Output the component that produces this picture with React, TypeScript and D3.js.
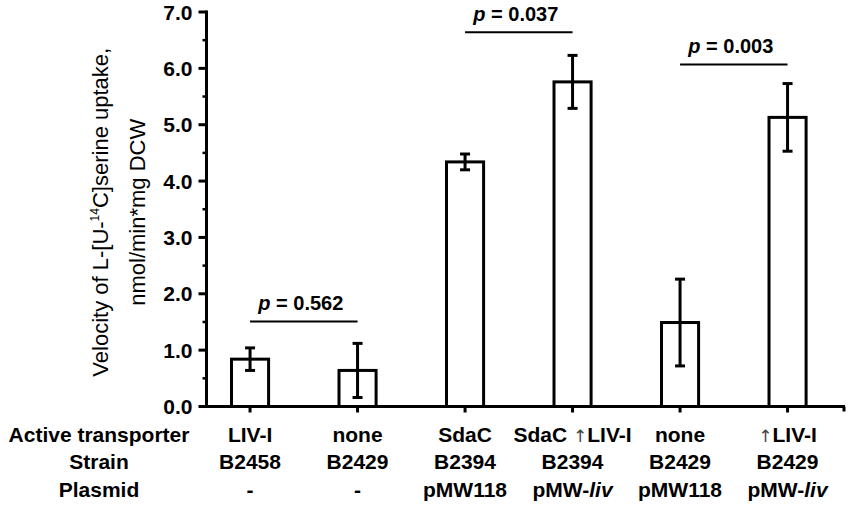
import * as d3 from "d3";

const transporters = ["LIV-I", "none", "SdaC", "SdaC ↑LIV-I", "none", "↑LIV-I"];
const strains = ["B2458", "B2429", "B2394", "B2394", "B2429", "B2429"];
const plasmids = ["-", "-", "pMW118", "pMW-liv", "pMW118", "pMW-liv"];
const rowTitles = ["Active transporter", "Strain", "Plasmid"];

// mean uptake and error (±) per strain
const means = [0.84, 0.64, 4.34, 5.76, 1.49, 5.13];
const errors = [0.2, 0.48, 0.14, 0.47, 0.77, 0.6];

// significance brackets
const pairs = [
  [0, 1],
  [2, 3],
  [4, 5],
];
const pValues = ["0.562", "0.037", "0.003"];
const pHeights = [1.51, 6.64, 6.07];

const W = 851;
const H = 514;
const font = "'Liberation Sans', Arial, sans-serif";

function Label({ text, x, y }: { text: string; x: number; y: number }) {
  // arrow drawn thin, "liv" in italics, as in the figure
  const parts = text.split(/(↑|liv$)/).filter((s) => s !== "");
  return (
    <text x={x} y={y} textAnchor="middle" fontSize={21} fontWeight="bold">
      {parts.map((p, i) =>
        p === "↑" ? (
          <tspan key={i} fontFamily="'DejaVu Sans'" fontWeight="normal" fontSize={17} fill="#444">
            {"\u2191\uFE0E"}
          </tspan>
        ) : p === "liv" ? (
          <tspan key={i} fontStyle="italic">
            liv
          </tspan>
        ) : (
          <tspan key={i}>{p}</tspan>
        )
      )}
    </text>
  );
}

export default function App() {
  const y = d3.scaleLinear().domain([0, 7]).range([406.5, 12]);
  const x = d3
    .scaleBand<number>()
    .domain(d3.range(means.length))
    .range([196.3, 841.3]);
  const cx = (i: number) => (x(i) ?? 0) + x.bandwidth() / 2;
  const barW = x.bandwidth() * 0.345;
  const capW = 10;
  const axisX = 206.5;
  const axisEnd = 845;

  const major = y.ticks(7);
  const minor = y.ticks(14).filter((t) => !Number.isInteger(t));

  const rows = [transporters, strains, plasmids];
  const rowY = [442, 469, 497];

  return (
    <svg
      width={W}
      height={H}
      style={{ position: "absolute", left: 0, top: 0, background: "#fff" }}
      fontFamily={font}
    >
      {/* bars */}
      {means.map((m, i) => (
        <rect
          key={"b" + i}
          x={cx(i) - barW / 2}
          y={y(m)}
          width={barW}
          height={y(0) - y(m)}
          fill="#fff"
          stroke="#000"
          strokeWidth={3}
        />
      ))}

      {/* error bars */}
      {means.map((m, i) => {
        const hi = y(m + errors[i]);
        const lo = y(m - errors[i]);
        return (
          <g key={"e" + i} stroke="#000" strokeWidth={3}>
            <line x1={cx(i)} x2={cx(i)} y1={hi} y2={lo} />
            <line x1={cx(i) - capW / 2} x2={cx(i) + capW / 2} y1={hi} y2={hi} />
            <line x1={cx(i) - capW / 2} x2={cx(i) + capW / 2} y1={lo} y2={lo} />
          </g>
        );
      })}

      {/* significance lines */}
      {pairs.map(([a, b], i) => (
        <g key={"p" + i}>
          <line
            x1={cx(a)}
            x2={cx(b)}
            y1={y(pHeights[i])}
            y2={y(pHeights[i])}
            stroke="#000"
            strokeWidth={2}
          />
          <text
            x={(cx(a) + cx(b)) / 2 - 3}
            y={y(pHeights[i]) - 11}
            textAnchor="middle"
            fontSize={20}
            fontWeight="bold"
          >
            <tspan fontStyle="italic">p</tspan> = {pValues[i]}
          </text>
        </g>
      ))}

      {/* y axis */}
      <line x1={axisX} x2={axisX} y1={y(7) - 1.5} y2={y(0) + 1.5} stroke="#000" strokeWidth={3} />
      {major.map((t) => (
        <g key={"t" + t}>
          <line x1={axisX - 8} x2={axisX} y1={y(t)} y2={y(t)} stroke="#000" strokeWidth={3} />
          <text
            x={axisX - 14}
            y={y(t)}
            dy="0.36em"
            textAnchor="end"
            fontSize={21}
            fontWeight="bold"
          >
            {t.toFixed(1)}
          </text>
        </g>
      ))}
      {minor.map((t) => (
        <line
          key={"m" + t}
          x1={axisX - 4}
          x2={axisX}
          y1={y(t)}
          y2={y(t)}
          stroke="#000"
          strokeWidth={2.5}
        />
      ))}

      {/* x axis */}
      <line x1={axisX} x2={axisEnd} y1={y(0)} y2={y(0)} stroke="#000" strokeWidth={3} />
      {means.map((_, i) => (
        <line
          key={"xt" + i}
          x1={cx(i)}
          x2={cx(i)}
          y1={y(0)}
          y2={y(0) + 6}
          stroke="#000"
          strokeWidth={3}
        />
      ))}
      <line x1={axisEnd - 1} x2={axisEnd - 1} y1={y(0)} y2={y(0) + 5} stroke="#000" strokeWidth={3} />

      {/* y axis title */}
      <g transform={`translate(108, ${(y(0) + y(7)) / 2 + 3}) rotate(-90)`} fontSize={22}>
        <text textAnchor="middle">
          Velocity of L-[U-
          <tspan fontSize={12} dy={-9}>
            14
          </tspan>
          <tspan dy={9}>C]serine uptake,</tspan>
        </text>
        <text textAnchor="middle" y={37}>
          nmol/min*mg DCW
        </text>
      </g>

      {/* category table */}
      {rowTitles.map((r, j) => (
        <text key={"r" + j} x={99} y={rowY[j]} textAnchor="middle" fontSize={21} fontWeight="bold">
          {r}
        </text>
      ))}
      {rows.map((row, j) =>
        row.map((t, i) => <Label key={j + "-" + i} text={t} x={cx(i)} y={rowY[j]} />)
      )}
    </svg>
  );
}
